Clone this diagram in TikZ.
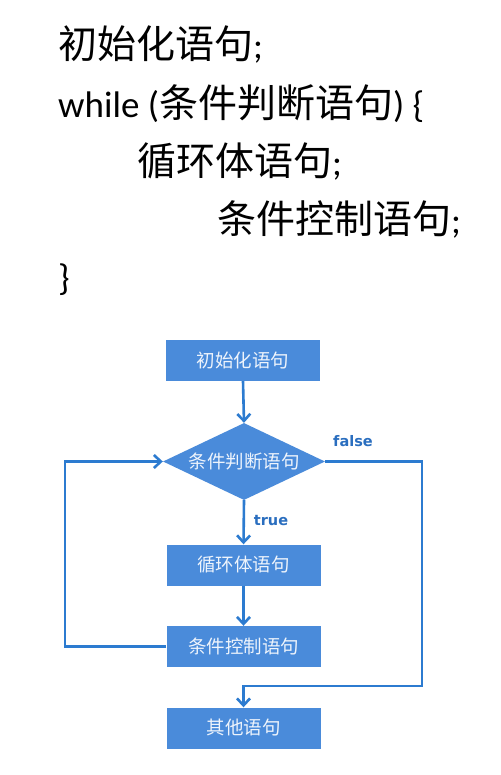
\documentclass[tikz,border=0pt]{standalone}
\usepackage{fontspec}
\setmainfont{Carlito}
\newfontfamily\cjk{Noto Sans CJK SC}
\newfontfamily\lab{DejaVu Sans Bold}
\usetikzlibrary{shapes.geometric,arrows.meta}
\definecolor{boxblue}{HTML}{4A8BDA}
\definecolor{lineblue}{HTML}{2C7BD0}
\definecolor{labblue}{HTML}{2A6EBF}
\definecolor{boxtext}{HTML}{EEF4FC}
\newcommand{\cjkbig}{\cjk\fontsize{39}{39}\selectfont}
\tikzset{
  codeline/.style={anchor=base west, inner sep=0pt, font=\fontsize{37}{37}\selectfont, text=black},
  flowbox/.style={rectangle, fill=boxblue, draw=none, minimum width=154pt, minimum height=41pt, inner sep=0pt, text=boxtext, font=\cjk\fontsize{18.5}{18.5}\selectfont},
  flowdia/.style={diamond, fill=boxblue, draw=none, aspect=2.1, minimum width=162pt, minimum height=77pt, inner sep=0pt, text=boxtext, font=\cjk\fontsize{18.5}{18.5}\selectfont},
  flowline/.style={draw=lineblue, line width=2.6pt},
  flowarrow/.style={flowline, -{Straight Barb[length=7pt,width=13pt,line width=2.6pt]}},
  flowlabel/.style={inner sep=0pt, text=labblue, font=\lab\fontsize{14.5}{14.5}\selectfont}
}
\begin{document}
\begin{tikzpicture}[x=1pt,y=-1pt]
\useasboundingbox[fill=white] (0,0) rectangle (500,775);
% code text
\node[codeline] (l1) at (58,59) {{\cjkbig 初始化语句};};
\node[codeline] (l2) at (58,118) {while ({\cjkbig 条件判断语句}) \{};
\node[codeline] (l3) at (137,176) {{\cjkbig 循环体语句};};
\node[codeline] (l4) at (217,234) {{\cjkbig 条件控制语句};};
\node[codeline] (l5) at (58,290) {\}};
% flowchart
\node[flowbox] (init) at (243,360.5) {初始化语句};
\node[flowdia] (dia) at (244,461.5) {条件判断语句};
\node[flowbox] (body) at (243.5,565) {循环体语句};
\node[flowbox] (ctrl) at (243.5,646.5) {条件控制语句};
\node[flowbox] (other) at (243.5,728) {其他语句};
\coordinate (lx) at (65,646.5);
\coordinate (rx) at (422,686);
\draw[flowarrow] (init.south) -- (dia.north);
\draw[flowarrow] (dia.south) -- (body.north);
\draw[flowarrow] (body.south) -- (ctrl.north);
\draw[flowarrow] (ctrl.west) -- (lx) |- (dia.west);
\draw[flowarrow] (dia.east) -| (rx) -| (other.north);
\node[flowlabel] (tlab) at (271,521) {true};
\node[flowlabel] (flab) at (353,441) {false};
\end{tikzpicture}
\end{document}
